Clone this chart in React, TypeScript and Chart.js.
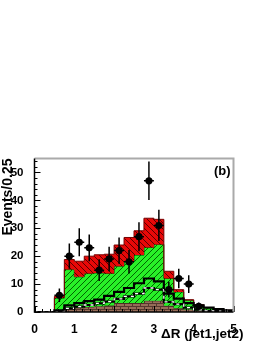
import React, { useEffect, useRef } from "react";
import { Chart, registerables } from "chart.js";

Chart.register(...registerables);

// Bin edges: 20 bins of width 0.25 from 0 to 5
const binEdges = [0, 0.25, 0.5, 0.75, 1, 1.25, 1.5, 1.75, 2, 2.25, 2.5, 2.75, 3, 3.25, 3.5, 3.75, 4, 4.25, 4.5, 4.75, 5];

// Stacked background tops (cumulative) per bin
const brownTop = [0, 0, 0.3, 1.2, 1.5, 1.8, 2.1, 2.3, 3.2, 3.2, 3.2, 4.0, 4.0, 2.2, 1.3, 0.9, 0.5, 0.3, 0.2, 0.1];
const greenTop = [0, 0, 5.0, 15.2, 12.6, 13.8, 14.0, 13.8, 16.4, 18.2, 20.4, 23.1, 24.2, 12.0, 7.2, 4.2, 2.4, 1.5, 0.9, 0.5];
const redTop = [0, 0, 5.6, 18.8, 18.2, 20.0, 20.5, 20.7, 24.0, 26.7, 29.1, 33.6, 33.2, 14.6, 8.0, 4.4, 2.6, 1.6, 1.0, 0.6];

// Overlay shapes
const solidLine = [0, 0, 0.6, 2.4, 3.2, 3.9, 4.4, 5.8, 7.2, 8.6, 10.3, 12.0, 11.0, 6.6, 4.8, 3.2, 2.4, 1.6, 1.0, 0.6];
const dashedLine = [0, 0, 0, 1.3, 1.9, 2.5, 3.1, 3.7, 4.7, 5.6, 6.6, 8.6, 8.0, 3.6, 2.8, 1.6, 0.8, 0.4, 0.3, 0.2];

// Data points
const dataX = [0.625, 0.875, 1.125, 1.375, 1.625, 1.875, 2.125, 2.375, 2.625, 2.875, 3.125, 3.375, 3.625, 3.875, 4.125];
const dataY = [6, 20, 25, 23, 15, 19, 22, 18, 27, 47, 31, 8, 12, 10, 2];
const dataErr = [2.4, 4.5, 5.0, 4.8, 3.9, 4.4, 4.7, 4.2, 5.2, 6.9, 5.6, 2.8, 3.5, 3.2, 1.4];
const halfBin = 0.125;

const xTicks = [0, 1, 2, 3, 4, 5];
const yTicks = [0, 10, 20, 30, 40, 50];
const xTitle = "ΔR (jet1,jet2)";
const yTitle = "Events/0.25";
const panelLabel = "(b)";

const FONT = "'Liberation Sans', Arial, Helvetica, sans-serif";

function histPoints(vals: number[]) {
  const pts = vals.map((v, i) => ({ x: binEdges[i], y: v }));
  pts.push({ x: binEdges[binEdges.length - 1], y: vals[vals.length - 1] });
  return pts;
}

function makeHatch(bg: string, fg: string, dir: "/" | "\\", s: number, lw: number) {
  const c = document.createElement("canvas");
  c.width = s;
  c.height = s;
  const g = c.getContext("2d")!;
  g.fillStyle = bg;
  g.fillRect(0, 0, s, s);
  g.strokeStyle = fg;
  g.lineWidth = lw;
  g.beginPath();
  if (dir === "/") {
    g.moveTo(-1, s + 1);
    g.lineTo(s + 1, -1);
    g.moveTo(-2, 2);
    g.lineTo(2, -2);
    g.moveTo(s - 2, s + 2);
    g.lineTo(s + 2, s - 2);
  } else {
    g.moveTo(-1, -1);
    g.lineTo(s + 1, s + 1);
    g.moveTo(-2, s - 2);
    g.lineTo(2, s + 2);
    g.moveTo(s - 2, -2);
    g.lineTo(s + 2, 2);
  }
  g.stroke();
  return g.createPattern(c, "repeat")!;
}

function makeBrick() {
  const c = document.createElement("canvas");
  c.width = 8;
  c.height = 6;
  const g = c.getContext("2d")!;
  g.fillStyle = "rgb(150,108,88)";
  g.fillRect(0, 0, 8, 6);
  g.fillStyle = "rgb(85,55,45)";
  g.fillRect(0, 0, 8, 1);
  g.fillRect(0, 3, 8, 1);
  g.fillRect(0, 0, 1, 3);
  g.fillRect(4, 3, 1, 3);
  return g.createPattern(c, "repeat")!;
}

const framePlugin = {
  id: "framePlugin",
  afterDraw(chart: any) {
    const { ctx, chartArea, scales } = chart;
    const { left, right, top, bottom } = chartArea;
    const xs = scales.x;
    const ys = scales.y;
    ctx.save();
    // ticks
    ctx.strokeStyle = "#000";
    ctx.lineWidth = 1;
    ctx.beginPath();
    for (let v = 0; v <= 54; v += 2) {
      const y = Math.round(ys.getPixelForValue(v)) + 0.5;
      const len = v % 10 === 0 ? 6 : 3;
      ctx.moveTo(left, y);
      ctx.lineTo(left + len, y);
    }
    for (let k = 0; k <= 25; k++) {
      const v = k * 0.2;
      const x = Math.round(xs.getPixelForValue(v)) + 0.5;
      const len = k % 5 === 0 ? 6 : 3;
      ctx.moveTo(x, bottom);
      ctx.lineTo(x, bottom - len);
    }
    ctx.stroke();
    // gray top/right frame
    ctx.strokeStyle = "#aaaaaa";
    ctx.lineWidth = 2;
    ctx.beginPath();
    ctx.moveTo(left, top);
    ctx.lineTo(right, top);
    ctx.lineTo(right, bottom);
    ctx.stroke();
    // black axes
    ctx.strokeStyle = "#000";
    ctx.lineWidth = 1.5;
    ctx.beginPath();
    ctx.moveTo(left, top);
    ctx.lineTo(left, bottom);
    ctx.lineTo(right, bottom);
    ctx.stroke();
    // texts
    ctx.fillStyle = "#000";
    ctx.font = `bold 13px ${FONT}`;
    ctx.textAlign = "right";
    ctx.textBaseline = "middle";
    ctx.fillText(panelLabel, right - 3, top + 13);
    ctx.font = `bold 13.5px ${FONT}`;
    ctx.fillText(xTitle, right + 10, bottom + 22);
    ctx.font = `bold 14px ${FONT}`;
    ctx.translate(8.5, top);
    ctx.rotate(-Math.PI / 2);
    ctx.textAlign = "right";
    ctx.fillText(yTitle, 0, 0);
    ctx.restore();
  },
};

export default function App() {
  const ref = useRef<HTMLCanvasElement>(null);
  useEffect(() => {
    const canvas = ref.current!;
    const redHatch = makeHatch("rgb(232,8,8)", "rgb(90,0,0)", "\\", 6, 1);
    const greenHatch = makeHatch("rgb(40,240,40)", "rgb(0,100,0)", "/", 6, 1);
    const brick = makeBrick();

    const vBars: any[] = [];
    const hBars: any[] = [];
    dataX.forEach((x, i) => {
      vBars.push({ x, y: dataY[i] - dataErr[i] }, { x, y: dataY[i] + dataErr[i] }, { x, y: null });
      hBars.push({ x: x - halfBin, y: dataY[i] }, { x: x + halfBin, y: dataY[i] }, { x, y: null });
    });

    const stepBase = {
      type: "line" as const,
      stepped: "before" as const,
      pointRadius: 0,
      tension: 0,
    };

    const chart = new Chart(canvas, {
      type: "line",
      data: {
        datasets: [
          { ...stepBase, label: "brown", data: histPoints(brownTop), fill: "origin", backgroundColor: brick, borderColor: "rgb(70,40,30)", borderWidth: 1, order: 7 },
          { ...stepBase, label: "green", data: histPoints(greenTop), fill: "-1", backgroundColor: greenHatch, borderColor: "rgb(0,80,0)", borderWidth: 1, order: 6 },
          { ...stepBase, label: "red", data: histPoints(redTop), fill: "-1", backgroundColor: redHatch, borderColor: "rgb(120,0,0)", borderWidth: 1, order: 5 },
          { ...stepBase, label: "solid", data: histPoints(solidLine), fill: false, borderColor: "#000", borderWidth: 2.2, order: 4 },
          { ...stepBase, label: "dashedBlack", data: histPoints(dashedLine), fill: false, borderColor: "#000", borderWidth: 2.2, order: 3 },
          { ...stepBase, label: "dashedWhite", data: histPoints(dashedLine), fill: false, borderColor: "#fff", borderWidth: 1.3, borderDash: [3, 4], order: 2 },
          { type: "line", label: "vErr", data: vBars, showLine: true, spanGaps: false, pointRadius: 0, borderColor: "#000", borderWidth: 1.5, fill: false, order: 1 },
          { type: "line", label: "hErr", data: hBars, showLine: true, spanGaps: false, pointRadius: 0, borderColor: "#000", borderWidth: 1.5, fill: false, order: 1 },
          { type: "scatter", label: "data", data: dataX.map((x, i) => ({ x, y: dataY[i] })), pointRadius: 3.6, pointBackgroundColor: "#000", pointBorderColor: "#000", pointBorderWidth: 0, order: 0 },
        ] as any,
      },
      options: {
        responsive: false,
        maintainAspectRatio: false,
        animation: false,
        devicePixelRatio: 1,
        parsing: true,
        layout: { padding: { left: 0, top: 158.5, right: 32.5, bottom: 0 } },
        plugins: { legend: { display: false }, tooltip: { enabled: false }, title: { display: false } },
        scales: {
          x: {
            type: "linear",
            min: 0,
            max: 5,
            grid: { display: false },
            border: { display: false },
            afterBuildTicks: (s: any) => {
              s.ticks = xTicks.map((v) => ({ value: v }));
            },
            afterFit: (s: any) => {
              s.height = 32;
            },
            ticks: {
              padding: 2,
              maxRotation: 0,
              autoSkip: false,
              color: "#000",
              font: { family: FONT, size: 12, weight: "bold" },
            },
          },
          y: {
            type: "linear",
            min: 0,
            max: 55,
            grid: { display: false },
            border: { display: false },
            afterBuildTicks: (s: any) => {
              s.ticks = yTicks.map((v) => ({ value: v }));
            },
            afterFit: (s: any) => {
              s.width = 34.5;
            },
            ticks: {
              padding: 3,
              autoSkip: false,
              color: "#000",
              font: { family: FONT, size: 11.5, weight: "bold" },
            },
          },
        },
      },
      plugins: [framePlugin],
    });
    return () => chart.destroy();
  }, []);

  return (
    <div style={{ position: "absolute", left: 0, top: 0, width: 266, height: 344, background: "#fff" }}>
      <canvas ref={ref} width={266} height={344} style={{ display: "block", width: 266, height: 344 }} />
    </div>
  );
}
